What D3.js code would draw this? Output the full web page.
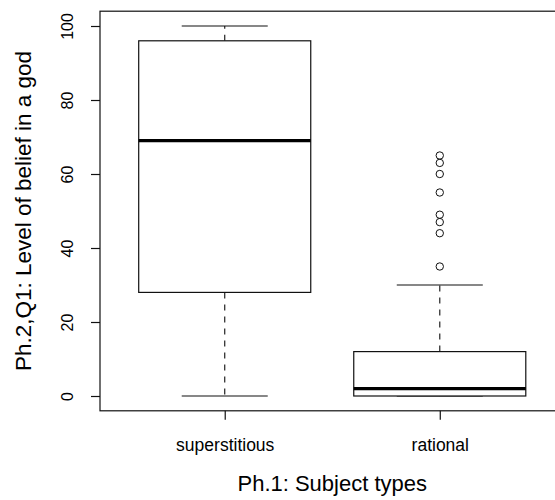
<!DOCTYPE html>
<html>
<head>
<meta charset="utf-8">
<script src="https://cdn.jsdelivr.net/npm/d3@7"></script>
<style>
  html, body { margin: 0; padding: 0; background: #fff; }
  svg { display: block; font-family: "Liberation Sans", Arial, Helvetica, sans-serif; }
</style>
</head>
<body>
<svg id="chart" width="555" height="500"></svg>
<script>
const categories = ["superstitious", "rational"];
const whiskerLow = [0, 0];
const q1 = [28, 0];
const median = [69, 2];
const q3 = [96, 12];
const whiskerHigh = [100, 30];
const outliers = [[], [35, 44, 47, 49, 55, 60, 63, 65]];
const yTicks = [0, 20, 40, 60, 80, 100];
const xTitle = "Ph.1: Subject types";
const yTitle = "Ph.2,Q1: Level of belief in a god";

const svg = d3.select("#chart");
const plotLeft = 100, plotRight = 564.5, plotTop = 11.2, plotBottom = 410.8;

const x = d3.scaleLinear().domain([0.42, 2.58]).range([plotLeft, plotRight]);
const y = d3.scaleLinear().domain([-4, 104]).range([plotBottom, plotTop]);

const g = svg.append("g");
const boxHalf = 0.4, capHalf = 0.2;
const lw = 1.2;

categories.forEach((c, i) => {
  const pos = i + 1;
  const cx = x(pos);
  g.append("line").attr("x1", cx).attr("x2", cx).attr("y1", y(q3[i])).attr("y2", y(whiskerHigh[i]))
    .attr("stroke", "#222").attr("stroke-width", lw).attr("stroke-dasharray", "6,6");
  g.append("line").attr("x1", cx).attr("x2", cx).attr("y1", y(q1[i])).attr("y2", y(whiskerLow[i]))
    .attr("stroke", "#222").attr("stroke-width", lw).attr("stroke-dasharray", "6,6");
  [whiskerLow[i], whiskerHigh[i]].forEach(v => {
    g.append("line").attr("x1", x(pos - capHalf)).attr("x2", x(pos + capHalf))
      .attr("y1", y(v)).attr("y2", y(v)).attr("stroke", "#111").attr("stroke-width", lw);
  });
  g.append("rect").attr("x", x(pos - boxHalf)).attr("width", x(pos + boxHalf) - x(pos - boxHalf))
    .attr("y", y(q3[i])).attr("height", y(q1[i]) - y(q3[i]))
    .attr("fill", "#fff").attr("stroke", "#111").attr("stroke-width", lw);
  g.append("line").attr("x1", x(pos - boxHalf)).attr("x2", x(pos + boxHalf))
    .attr("y1", y(median[i])).attr("y2", y(median[i])).attr("stroke", "#000").attr("stroke-width", 3.2);
  g.selectAll(null).data(outliers[i]).enter().append("circle")
    .attr("cx", cx).attr("cy", d => y(d)).attr("r", 3.7)
    .attr("fill", "none").attr("stroke", "#111").attr("stroke-width", 1);
});

svg.append("rect").attr("x", plotLeft).attr("y", plotTop).attr("width", plotRight - plotLeft).attr("height", plotBottom - plotTop)
  .attr("fill", "none").attr("stroke", "#111").attr("stroke-width", lw);

// y axis
const yAxis = svg.append("g").attr("transform", `translate(${plotLeft},0)`)
  .call(d3.axisLeft(y).tickValues(yTicks).tickSize(9).tickFormat(d3.format("d")));
yAxis.select(".domain").remove();
yAxis.selectAll("line").attr("stroke", "#111").attr("stroke-width", lw);
yAxis.selectAll(".tick text")
  .attr("x", 0).attr("y", 0).attr("dy", null)
  .attr("transform", "translate(-27,0) rotate(-90)")
  .attr("text-anchor", "middle")
  .attr("font-size", 16).attr("fill", "#000");

// x axis
const xAxis = svg.append("g").attr("transform", `translate(0,${plotBottom})`)
  .call(d3.axisBottom(x).tickValues([1, 2]).tickSize(9).tickFormat(d => categories[d - 1]));
xAxis.select(".domain").remove();
xAxis.selectAll("line").attr("stroke", "#111").attr("stroke-width", lw);
xAxis.selectAll("text").attr("y", 40).attr("dy", null).attr("font-size", 17.5).attr("fill", "#000");

svg.append("text").attr("x", x(1.5)).attr("y", 491).attr("text-anchor", "middle")
  .attr("font-size", 22).attr("fill", "#000").text(xTitle);
svg.append("text").attr("transform", `translate(31,${y(50)}) rotate(-90)`).attr("text-anchor", "middle")
  .attr("font-size", 22.5).attr("fill", "#000").text(yTitle);
</script>
</body>
</html>
